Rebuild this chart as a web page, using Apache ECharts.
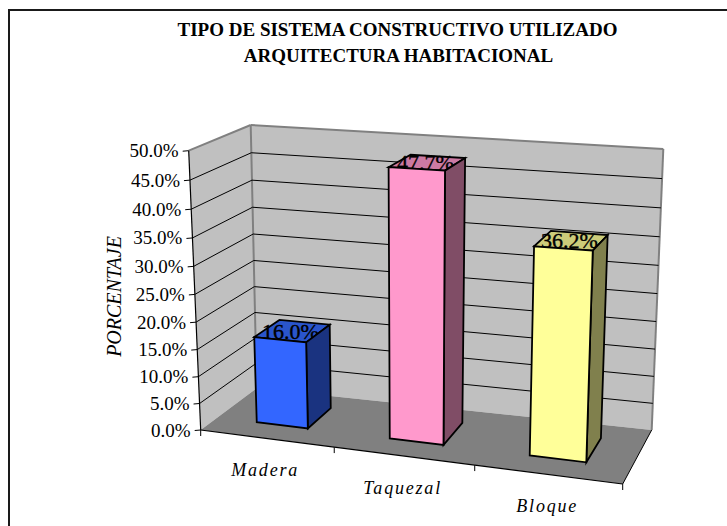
<!DOCTYPE html>
<html><head><meta charset="utf-8">
<style>html,body{margin:0;padding:0;background:#fff}#c{width:727px;height:526px}
text[style*="italic 18px"]{letter-spacing:1.8px}</style>
<script src="https://cdn.jsdelivr.net/npm/echarts@6/dist/echarts.min.js"></script>
</head><body><div id="c"></div>
<script>
const titleLines = ['TIPO DE SISTEMA CONSTRUCTIVO UTILIZADO', 'ARQUITECTURA HABITACIONAL'];
const categories = ['Madera', 'Taquezal', 'Bloque'];
const values = [16.0, 47.7, 36.2];
const yTicks = [0, 5, 10, 15, 20, 25, 30, 35, 40, 45, 50];
const yAxisTitle = 'PORCENTAJE';
const barFaces = [['#3366FF', '#2A55CC', '#1A3380'], ['#FF99CC', '#CC7AA3', '#804D66'], ['#FFFF99', '#CCCC7A', '#80804D']];

// plot box of the hidden axes, and where its 3D corners land on the page
const G = {left: 201, top: 150, width: 422, height: 280};
const C = {
  fbl: [200.7, 430], ftl: [188.7, 150.7], bbl: [256.7, 388.3], btl: [250.7, 125],
  fbr: [622.7, 484], ftr: [634, 176], bbr: [651.7, 430], btr: [663.3, 149]
};
const warp = (s, k) => s / (s + (1 - s) * k);
const mix = (a, b, f) => [a[0] + (b[0] - a[0]) * f, a[1] + (b[1] - a[1]) * f];
// project a point of the hidden grid plus a depth (0 front .. 1 back) on to the page
function proj(pt, z) {
  const u = warp((pt[0] - G.left) / G.width, 1.08);
  const t = warp((G.top + G.height - pt[1]) / G.height, 1.06);
  const front = mix(mix(C.fbl, C.fbr, u), mix(C.ftl, C.ftr, u), t);
  const back = mix(mix(C.bbl, C.bbr, u), mix(C.btl, C.btr, u), t);
  return mix(front, back, z);
}
const BAR_Z = [0.30, 0.757], BAR_W = 0.39;
const poly = (points, fill, stroke, lw) => ({type: 'polygon', shape: {points}, style: {fill, stroke: stroke || 'none', lineWidth: lw || 0}});
const seg = (a, b, stroke, lw) => ({type: 'line', shape: {x1: a[0], y1: a[1], x2: b[0], y2: b[1]}, style: {stroke, lineWidth: lw}});

const chart = echarts.init(document.getElementById('c'), null, {renderer: 'svg'});
chart.setOption({
  animation: false,
  backgroundColor: '#fff',
  grid: Object.assign({containLabel: false}, G),
  xAxis: {type: 'category', data: categories, show: false},
  yAxis: {type: 'value', min: 0, max: 50, interval: 5, show: false},
  graphic: [
    {type: 'rect', shape: {x: 9, y: 10, width: 760, height: 560}, style: {fill: 'none', stroke: '#1a1a1a', lineWidth: 2}, z: 0},
    {type: 'text', style: {x: 397.5, y: 29.5, text: titleLines[0], font: 'bold 19px "Liberation Serif"', fill: '#000', align: 'center', verticalAlign: 'middle'}},
    {type: 'text', style: {x: 398.5, y: 55.5, text: titleLines[1], font: 'bold 19px "Liberation Serif"', fill: '#000', align: 'center', verticalAlign: 'middle'}},
    {type: 'text', rotation: Math.PI / 2, x: 114, y: 296.5, style: {x: 0, y: 0, text: yAxisTitle, font: 'italic 20px "Liberation Serif"', fill: '#000', align: 'center', verticalAlign: 'middle'}}
  ],
  series: [
    { // walls and floor
      type: 'custom', coordinateSystem: 'cartesian2d', data: [[0]], z: 1, silent: true,
      renderItem(p, api) {
        return {type: 'group', children: [
          poly([C.ftl, C.btl, C.bbl, C.fbl], '#C0C0C0'),
          poly([C.btl, C.btr, C.bbr, C.bbl], '#C0C0C0'),
          poly([C.fbl, C.bbl, C.bbr, C.fbr], '#808080'),
          seg(C.ftl, C.btl, '#808080', 2), seg(C.btl, C.btr, '#808080', 2),
          seg(C.btl, C.bbl, '#808080', 2), seg(C.btr, C.bbr, '#808080', 2)
        ]};
      }
    },
    { // gridlines, value ticks and their labels
      type: 'custom', coordinateSystem: 'cartesian2d', data: yTicks.map(v => [0, v]), z: 2, silent: true,
      renderItem(p, api) {
        const v = api.value(1);
        const band = api.size([1, 0])[0];
        const base = api.coord([0, v]);
        const L = [base[0] - band / 2, base[1]], R = [base[0] + band * 2.5, base[1]];
        const a = proj(L, 0), b = proj(L, 1), c = proj(R, 1);
        const kids = [seg([a[0] - 6, a[1] + 0.5], a, '#000', 1),
          {type: 'text', style: {x: a[0] - 10, y: a[1], text: v.toFixed(1) + '%', font: '19px "Liberation Serif"', fill: '#000', align: 'right', verticalAlign: 'middle'}}];
        if (v > 0 && v < 50) kids.push(seg(a, b, '#000', 1), seg(b, c, '#000', 1));
        return {type: 'group', children: kids};
      }
    },
    { // outer axis lines, category ticks and labels
      type: 'custom', coordinateSystem: 'cartesian2d', data: categories.map((c, i) => [i, 0]), z: 3, silent: true,
      renderItem(p, api) {
        const i = api.value(0);
        const base = api.coord([i, 0]);
        const band = api.size([1, 0])[0];
        const left = proj([base[0] - band / 2, base[1]], 0), right = proj([base[0] + band / 2, base[1]], 0);
        const mid = proj(base, 0);
        const kids = [seg(left, right, '#000', 1.2), seg(right, [right[0], right[1] + 6], '#000', 1),
          {type: 'text', style: {x: mid[0] - 1.5 + i * 0.5, y: mid[1] + 32, text: categories[i], font: 'italic 18px "Liberation Serif"', fill: '#000', align: 'center', verticalAlign: 'middle'}}];
        if (i === 0) kids.push(seg(left, [left[0], left[1] + 6], '#000', 1), seg(C.fbl, C.ftl, '#000', 1.2));
        if (i === 2) kids.push(seg(C.fbr, C.bbr, '#000', 1));
        return {type: 'group', children: kids};
      }
    },
    { // bars
      type: 'custom', coordinateSystem: 'cartesian2d', data: values.map((v, i) => [i, v]), z: 4, silent: true,
      renderItem(p, api) {
        const i = api.value(0), v = api.value(1);
        const top = api.coord([i, v]), bot = api.coord([i, 0]);
        const hw = api.size([1, 0])[0] * BAR_W / 2;
        const l = top[0] - hw, r = top[0] + hw;
        const P = (x, y, z) => proj([x, y], z);
        const [z0, z1] = BAR_Z;
        const faces = barFaces[i];
        const k = '#000', w = 1.8;
        const tf = [P(l, top[1], z0), P(r, top[1], z0), P(r, top[1], z1), P(l, top[1], z1)];
        const center = [(tf[0][0] + tf[1][0] + tf[2][0] + tf[3][0]) / 4, (tf[0][1] + tf[1][1] + tf[2][1] + tf[3][1]) / 4];
        return {type: 'group', children: [
          poly(tf, faces[1], k, w),
          {type: 'text', style: {x: center[0] - 2, y: center[1], text: v.toFixed(1) + '%', font: '22px "Liberation Serif"', fill: '#000', stroke: '#000', lineWidth: 0.4, align: 'center', verticalAlign: 'middle'}},
          poly([P(r, top[1], z0), P(r, top[1], z1), P(r, bot[1], z1), P(r, bot[1], z0)], faces[2], k, w),
          poly([P(l, top[1], z0), P(r, top[1], z0), P(r, bot[1], z0), P(l, bot[1], z0)], faces[0], k, w)
        ]};
      }
    }
  ]
});
</script></body></html>
